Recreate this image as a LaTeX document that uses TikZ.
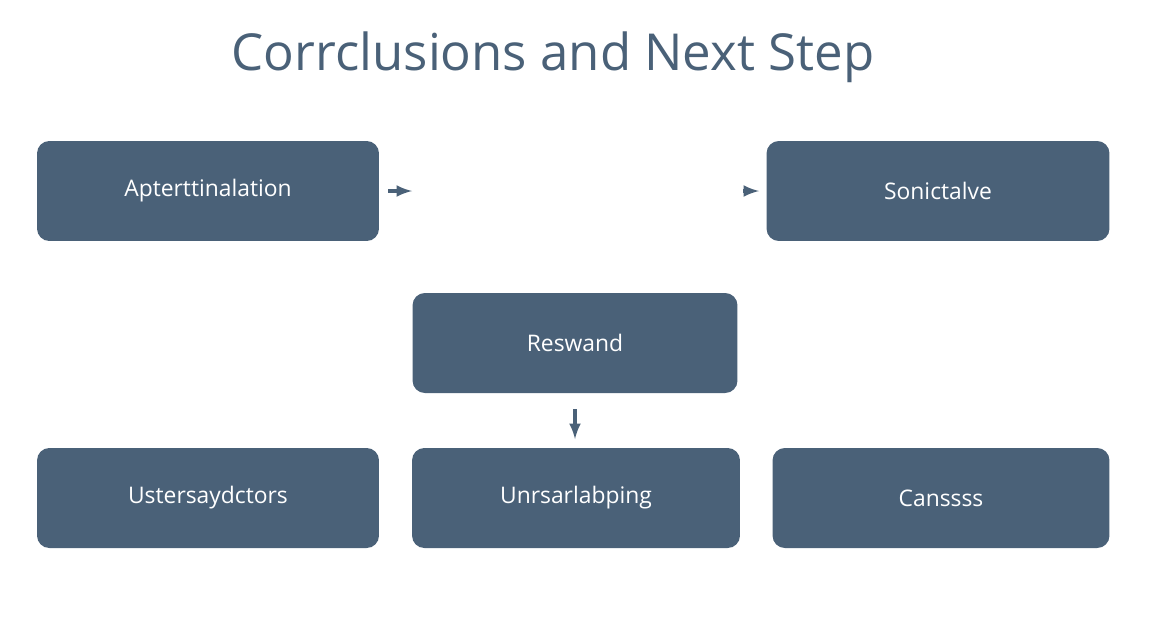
\documentclass[tikz,border=0pt]{standalone}
\usepackage{fontspec}
\setmainfont{Open Sans}
\usepackage{tikz}
\definecolor{slate}{HTML}{4A6178}
\tikzset{box/.style={draw=none,fill=slate,rounded corners=7pt,minimum height=2cm,text=white,font=\fontsize{13}{15}\selectfont},
arr/.style={slate,line width=2pt,-latex}}
\begin{document}
\begin{tikzpicture}[x=0.02cm,y=-0.02cm]
\useasboundingbox[fill=white] (0,0) rectangle (1152,640);
\node[slate,font=\fontsize{29}{34}\selectfont] (title) at (553,57) {Corrclusions and Next Step};

\node[box,minimum width=6.84cm] (apter) at (208,191) {Apterttinalation};
\node[box,minimum width=6.86cm] (sonic) at (938,191) {Sonictalve};
\node[box,minimum width=6.5cm] (resw) at (575,343) {Reswand};
\node[box,minimum width=6.84cm] (uster) at (208,498) {Ustersaydctors};
\node[box,minimum width=6.56cm] (unrs) at (576,498) {Unrsarlabping};
\node[box,minimum width=6.74cm] (cans) at (941,498) {Canssss};

\coordinate (a1) at (388,191);
\coordinate (a2) at (412,191);
\coordinate (b1) at (743,191);
\coordinate (b2) at (759,191);
\coordinate (c1) at (575,409);
\coordinate (c2) at (575,439);
\draw[arr] (a1) -- (a2);
\draw[arr] (b1) -- (b2);
\draw[arr] (c1) -- (c2);
\end{tikzpicture}
\end{document}
